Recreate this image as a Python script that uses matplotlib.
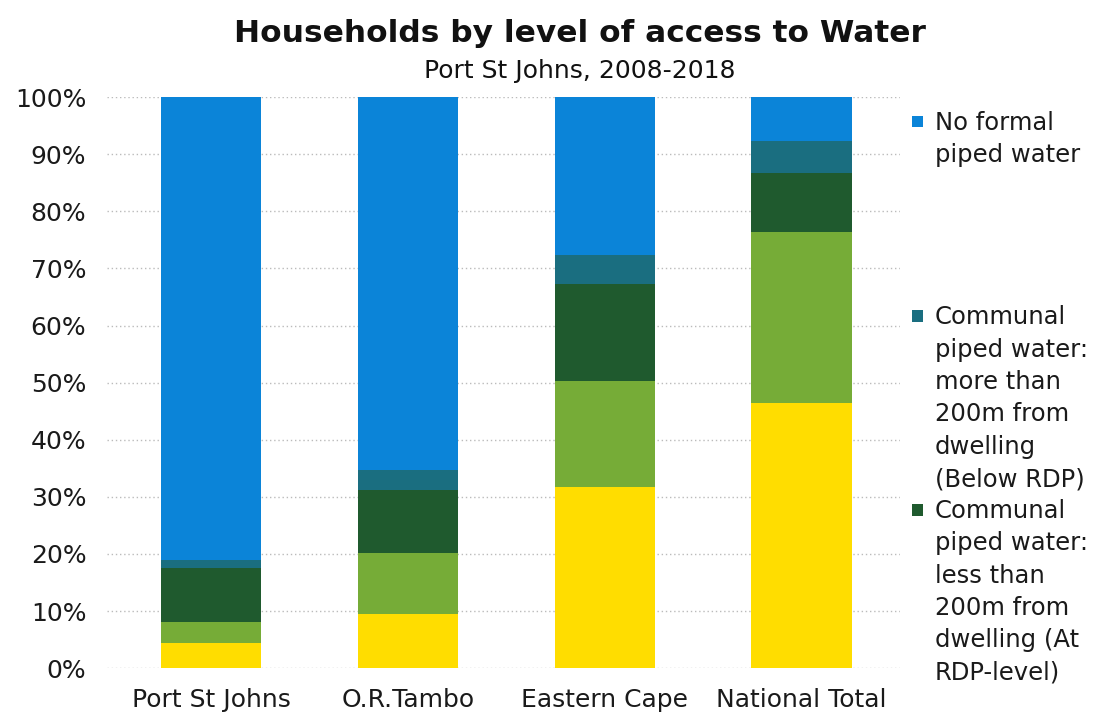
import matplotlib
matplotlib.use("Agg")
import matplotlib.pyplot as plt
import numpy as np

# Share of households per area (percent), stacked bottom to top
areas = ["Port St Johns", "O.R.Tambo", "Eastern Cape", "National Total"]
inside_dwelling = [4.4, 9.5, 31.7, 46.4]
inside_yard = [3.7, 10.6, 18.6, 30.0]
communal_less_200m = [9.4, 11.1, 17.0, 10.3]
communal_more_200m = [1.4, 3.5, 5.0, 5.6]
no_formal = [81.1, 65.3, 27.7, 7.7]

series = [inside_dwelling, inside_yard, communal_less_200m, communal_more_200m, no_formal]
colours = ["#FFDD00", "#76AC37", "#1F5A2E", "#1A6E80", "#0B84D8"]

legend_labels = [
    "No formal\npiped water",
    "Communal\npiped water:\nmore than\n200m from\ndwelling\n(Below RDP)",
    "Communal\npiped water:\nless than\n200m from\ndwelling (At\nRDP-level)",
]
legend_colours = ["#0B84D8", "#1A6E80", "#1F5A2E"]

fig = plt.figure(figsize=(11.04, 7.2), dpi=100)
ax = fig.add_axes([0.097, 0.072, 0.718, 0.793])

x = np.arange(len(areas))
bottom = np.zeros(len(areas))
for vals, col in zip(series, colours):
    ax.bar(x, vals, bottom=bottom, width=0.51, color=col, zorder=3)
    bottom += np.array(vals)

ax.set_xlim(-0.53, 3.5)
ax.set_ylim(0, 100)
ax.set_yticks(np.arange(0, 101, 10))
ax.set_yticklabels([f"{v}%" for v in range(0, 101, 10)])
ax.set_xticks(x)
ax.set_xticklabels(areas)
ax.tick_params(axis="both", length=0, labelsize=18, colors="#1a1a1a")
ax.tick_params(axis="x", pad=14)
ax.tick_params(axis="y", pad=15)
ax.yaxis.grid(True, linestyle=(0, (1, 2)), color="#bbbbbb", linewidth=1, zorder=0)
for s in ax.spines.values():
    s.set_visible(False)

fig.text(0.525, 0.953, "Households by level of access to Water", ha="center", va="center",
         fontsize=22.5, fontweight="bold", color="#111111")
fig.text(0.525, 0.902, "Port St Johns, 2008-2018", ha="center", va="center",
         fontsize=18, color="#111111")

# hand-placed legend on the right
legend_y = [0.832, 0.562, 0.293]
for lab, col, y in zip(legend_labels, legend_colours, legend_y):
    fig.patches.append(plt.Rectangle((0.826, y - 0.009), 0.0105, 0.016, transform=fig.transFigure,
                                     facecolor=col, edgecolor="none"))
    fig.text(0.847, y + 0.014, lab, ha="left", va="top", fontsize=17.5, color="#1a1a1a",
             linespacing=1.44)

fig.savefig("out.png", dpi=100)
